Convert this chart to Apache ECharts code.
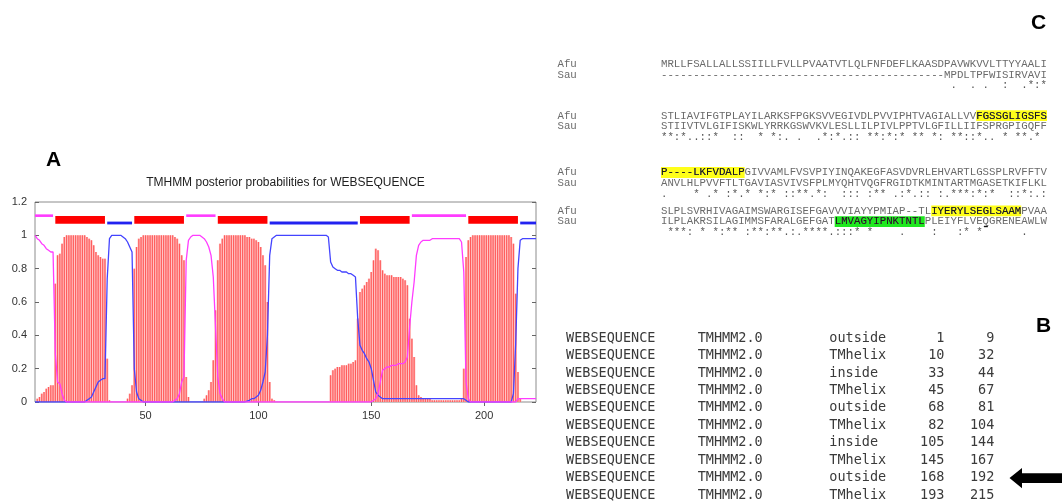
<!DOCTYPE html>
<html>
<head>
<meta charset="utf-8">
<script src="https://cdn.jsdelivr.net/npm/echarts@6/dist/echarts.min.js"></script>
<style>
  html, body { margin: 0; padding: 0; background: #ffffff; }
  #chart { width: 1062px; height: 501px; }
</style>
</head>
<body>
<div id="chart"></div>
<script>
// ---------- TMHMM posterior probabilities (residues 1..223) ----------
const seqLength = 223;

const tmProb = [
  0, 0.02, 0.03, 0.05, 0.06, 0.08, 0.09, 0.10, 0.10, 0.71,          // 1-10
  0.88, 0.89, 0.95, 0.99, 1, 1, 1, 1, 1, 1,                          // 11-20
  1, 1, 1, 0.99, 0.98, 0.97, 0.94, 0.90, 0.88, 0.87,                 // 21-30
  0.86, 0.86, 0.26, 0.01, 0, 0, 0, 0, 0, 0,                          // 31-40
  0, 0.02, 0.05, 0.10, 0.80, 0.93, 0.98, 0.99, 1, 1,                 // 41-50
  1, 1, 1, 1, 1, 1, 1, 1, 1, 1,                                      // 51-60
  1, 1, 0.99, 0.98, 0.95, 0.88, 0.85, 0.15, 0.03, 0,                 // 61-70
  0, 0, 0, 0, 0, 0.02, 0.04, 0.07, 0.12, 0.25,                       // 71-80
  0.55, 0.85, 0.95, 0.98, 1, 1, 1, 1, 1, 1,                          // 81-90
  1, 1, 1, 1, 0.99, 0.99, 0.98, 0.98, 0.97, 0.96,                    // 91-100
  0.93, 0.88, 0.82, 0.60, 0.12, 0.02, 0.01, 0, 0, 0,                 // 101-110
  0, 0, 0, 0, 0, 0, 0, 0, 0, 0,                                      // 111-120
  0, 0, 0, 0, 0, 0, 0, 0, 0, 0,                                      // 121-130
  0, 0.16, 0.19, 0.20, 0.21, 0.21, 0.22, 0.22, 0.22, 0.23,           // 131-140
  0.23, 0.24, 0.25, 0.50, 0.66, 0.68, 0.70, 0.72, 0.74, 0.78,        // 141-150
  0.85, 0.92, 0.91, 0.85, 0.79, 0.77, 0.76, 0.76, 0.76, 0.75,        // 151-160
  0.75, 0.75, 0.75, 0.74, 0.73, 0.70, 0.50, 0.38, 0.27, 0.10,        // 161-170
  0.04, 0.03, 0.02, 0.02, 0.02, 0.02, 0.01, 0.01, 0.01, 0.01,        // 171-180
  0.01, 0.01, 0.01, 0.01, 0.01, 0.01, 0.01, 0.01, 0.01, 0.02,        // 181-190
  0.20, 0.87, 0.97, 0.99, 1, 1, 1, 1, 1, 1,                          // 191-200
  1, 1, 1, 1, 1, 1, 1, 1, 1, 1,                                      // 201-210
  1, 0.99, 0.95, 0.65, 0.18, 0.02, 0, 0, 0, 0,                       // 211-220
  0, 0, 0                                                            // 221-223
];

const insideProb = [
  0, 0, 0, 0, 0, 0, 0, 0, 0, 0,                                      // 1-10
  0, 0, 0, 0, 0, 0, 0, 0, 0, 0,                                      // 11-20
  0, 0, 0, 0.01, 0.02, 0.03, 0.06, 0.09, 0.12, 0.13,                 // 21-30
  0.14, 0.14, 0.74, 0.98, 1, 1, 1, 1, 1, 0.99,                       // 31-40
  0.98, 0.96, 0.93, 0.90, 0.20, 0.06, 0.02, 0.01, 0, 0,              // 41-50
  0, 0, 0, 0, 0, 0, 0, 0, 0, 0,                                      // 51-60
  0, 0, 0, 0, 0, 0, 0, 0, 0, 0,                                      // 61-70
  0, 0, 0, 0, 0, 0, 0, 0, 0, 0,                                      // 71-80
  0, 0, 0, 0, 0, 0, 0, 0, 0, 0,                                      // 81-90
  0, 0, 0, 0, 0.005, 0.01, 0.02, 0.02, 0.03, 0.04,                   // 91-100
  0.07, 0.12, 0.18, 0.40, 0.88, 0.98, 0.99, 1, 1, 1,                 // 101-110
  1, 1, 1, 1, 1, 1, 1, 1, 1, 1,                                      // 111-120
  1, 1, 1, 1, 1, 1, 1, 1, 1, 1,                                      // 121-130
  0.99, 0.84, 0.81, 0.80, 0.79, 0.79, 0.78, 0.78, 0.78, 0.77,        // 131-140
  0.77, 0.76, 0.75, 0.50, 0.34, 0.31, 0.29, 0.26, 0.24, 0.20,        // 141-150
  0.13, 0.06, 0.04, 0.03, 0.02, 0.02, 0.02, 0.02, 0.02, 0.02,        // 151-160
  0.02, 0.02, 0.02, 0.02, 0.02, 0.02, 0.02, 0.02, 0.02, 0.02,        // 161-170
  0.02, 0.02, 0.02, 0.02, 0.02, 0.02, 0.02, 0.02, 0.02, 0.02,        // 171-180
  0.02, 0.02, 0.02, 0.02, 0.02, 0.02, 0.02, 0.02, 0.02, 0.02,        // 181-190
  0.02, 0.01, 0, 0, 0, 0, 0, 0, 0, 0,                                // 191-200
  0, 0, 0, 0, 0, 0, 0, 0, 0, 0,                                      // 201-210
  0, 0, 0.05, 0.35, 0.80, 0.97, 0.98, 0.98, 0.98, 0.98,              // 211-220
  0.98, 0.98, 0.98                                                   // 221-223
];

const outsideProb = [
  1, 0.98, 0.97, 0.95, 0.94, 0.92, 0.91, 0.90, 0.90, 0.29,           // 1-10
  0.12, 0.11, 0.05, 0.01, 0, 0, 0, 0, 0, 0,                          // 11-20
  0, 0, 0, 0, 0, 0, 0, 0, 0, 0,                                      // 21-30
  0, 0, 0, 0, 0, 0, 0, 0, 0, 0,                                      // 31-40
  0, 0, 0, 0, 0, 0, 0, 0, 0, 0,                                      // 41-50
  0, 0, 0, 0, 0, 0, 0, 0, 0, 0,                                      // 51-60
  0, 0, 0.01, 0.02, 0.05, 0.12, 0.15, 0.85, 0.97, 0.99,              // 61-70
  1, 1, 1, 1, 0.99, 0.98, 0.96, 0.93, 0.88, 0.75,                    // 71-80
  0.45, 0.15, 0.05, 0.02, 0, 0, 0, 0, 0, 0,                          // 81-90
  0, 0, 0, 0, 0, 0, 0, 0, 0, 0,                                      // 91-100
  0, 0, 0, 0, 0, 0, 0, 0, 0, 0,                                      // 101-110
  0, 0, 0, 0, 0, 0, 0, 0, 0, 0,                                      // 111-120
  0, 0, 0, 0, 0, 0, 0, 0, 0, 0,                                      // 121-130
  0, 0, 0, 0, 0, 0, 0, 0, 0, 0,                                      // 131-140
  0, 0, 0, 0, 0, 0, 0, 0, 0, 0,                                      // 141-150
  0.01, 0.02, 0.05, 0.12, 0.19, 0.20, 0.21, 0.21, 0.22, 0.22,        // 151-160
  0.22, 0.23, 0.23, 0.23, 0.24, 0.27, 0.45, 0.60, 0.72, 0.88,        // 161-170
  0.94, 0.96, 0.97, 0.97, 0.97, 0.97, 0.98, 0.98, 0.98, 0.98,        // 171-180
  0.98, 0.98, 0.98, 0.98, 0.98, 0.98, 0.98, 0.98, 0.98, 0.96,        // 181-190
  0.78, 0.12, 0.02, 0, 0, 0, 0, 0, 0, 0,                             // 191-200
  0, 0, 0, 0, 0, 0, 0, 0, 0, 0,                                      // 201-210
  0, 0, 0, 0, 0.02, 0.02, 0.02, 0.02, 0.02, 0.02,                    // 211-220
  0.02, 0.02, 0.02                                                   // 221-223
];

// ---------- predicted topology (TMHMM2.0 output) ----------
const seqName = 'WEBSEQUENCE';
const sourceName = 'TMHMM2.0';
const regionType  = ['outside', 'TMhelix', 'inside', 'TMhelix', 'outside', 'TMhelix', 'inside', 'TMhelix', 'outside', 'TMhelix', 'inside'];
const regionStart = [1, 10, 33, 45, 68, 82, 105, 145, 168, 193, 216];
const regionEnd   = [9, 32, 44, 67, 81, 104, 144, 167, 192, 215, 223];

const xTickValues = [50, 100, 150, 200];
const plotTitle = 'TMHMM posterior probabilities for WEBSEQUENCE';

// ---------- pairwise alignment (Clustal) ----------
const afuRows = [
  'MRLLFSALLALLSSIILLFVLLPVAATVTLQLFNFDEFLKAASDPAVWKVVLTTYYAALI',
  'STLIAVIFGTPLAYILARKSFPGKSVVEGIVDLPVVIPHTVAGIALLVVFGSSGLIGSFS',
  'P----LKFVDALPGIVVAMLFVSVPIYINQAKEGFASVDVRLEHVARTLGSSPLRVFFTV',
  'SLPLSVRHIVAGAIMSWARGISEFGAVVVIAYYPMIAP--TLIYERYLSEGLSAAMPVAA'
];
const sauRows = [
  '--------------------------------------------MPDLTPFWISIRVAVI',
  'STIIVTVLGIFISKWLYRRKGSWVKVLESLLILPIVLPPTVLGFILLIIFSPRGPIGQFF',
  'ANVLHLPVVFTLTGAVIASVIVSFPLMYQHTVQGFRGIDTKMINTARTMGASETKIFLKL',
  'ILPLAKRSILAGIMMSFARALGEFGATLMVAGYIPNKTNTLPLEIYFLVEQGRENEAWLW'
];
const consRows = [
  '                                             .  . .  :  .*:*',
  '**:*..::*  ::  * *:. .  .*:*.:: **:*:* ** *: **::*.. * **.* ',
  '.    * .* :*.* *:* ::**.*:  ::: :** .:*.:: :.***:*:*  ::*:.:',
  ' ***: * *:** :**:**.:.****.:::* *    .    :   :* *      .   '
];
// [row, first column, last column]
const afuMarked = [[1, 49, 59], [2, 0, 12], [3, 42, 55]];
const sauMarked = [[3, 27, 40]];

// ---------- layout ----------
const W = 1062, H = 501;
const plotLeft = 35, plotRight = 536, plotTop = 202, plotBottom = 402;
const segmentLevel = { outside: 1.118, TMhelix: 1.093, inside: 1.074 };
const segmentThick = { outside: 2.6, TMhelix: 7.6, inside: 2.8 };
const segmentColor = { outside: '#ff3cff', TMhelix: '#ff0000', inside: '#2222f0' };

const alnFontSize = 10.72;
const alnCharW = alnFontSize * 0.6001;
const alnFont = alnFontSize + 'px "Liberation Mono", "Courier New", monospace';
const alnSeqX = 661, alnLabelX = 557.5;
const alnBlockY = [64, 115.7, 172.5, 210.8];
const alnLineGap = 10.8;

const tblFont = '13.5px "DejaVu Sans Mono", monospace';
const tblTop = 338.3, tblRowH = 17.42;

const sansFont = '"Liberation Sans", Arial, Helvetica, sans-serif';

const positions = [];
for (let i = 1; i <= seqLength; i++) positions.push(i);

const chart = echarts.init(document.getElementById('chart'), null, { renderer: 'canvas' });

// ---------- graphic elements: panel letters, alignment, table, arrow ----------
const graphics = [];
function txt(x, y, text, font, fill, align, z) {
  graphics.push({
    type: 'text', x: x, y: y, z: z || 2, silent: true,
    style: { text: text, font: font, fill: fill, align: align || 'left', verticalAlign: 'middle',
             textAlign: align || 'left', textVerticalAlign: 'middle' }
  });
}

txt(46, 160, 'A', 'bold 21px ' + sansFont, '#000');
txt(1031, 23, 'C', 'bold 21px ' + sansFont, '#000');
txt(1036, 326, 'B', 'bold 21px ' + sansFont, '#000');
txt((plotLeft + plotRight) / 2, 183, plotTitle, '12px ' + sansFont, '#222', 'center');

// alignment blocks
afuRows.forEach(function (row, k) {
  const yA = alnBlockY[k], yS = yA + alnLineGap, yC = yA + 2 * alnLineGap;
  txt(alnLabelX, yA, 'Afu', alnFont, '#6a6a6a');
  txt(alnLabelX, yS, 'Sau', alnFont, '#6a6a6a');
  txt(alnSeqX, yA, row, alnFont, '#6a6a6a');
  txt(alnSeqX, yS, sauRows[k], alnFont, '#6a6a6a');
  txt(alnSeqX, yC, consRows[k], alnFont, '#555');
});
function mark(list, rows, dy, color) {
  list.forEach(function (m) {
    const k = m[0], c0 = m[1], c1 = m[2];
    const y = alnBlockY[k] + dy;
    graphics.push({
      type: 'rect', z: 1, silent: true,
      shape: { x: alnSeqX + c0 * alnCharW, y: y - 5.4, width: (c1 - c0 + 1) * alnCharW, height: 10.8 },
      style: { fill: color }
    });
    txt(alnSeqX + c0 * alnCharW, y, rows[k].slice(c0, c1 + 1), alnFont, '#1a1a1a', 'left', 3);
  });
}
mark(afuMarked, afuRows, 0, '#ffff1a');
mark(sauMarked, sauRows, alnLineGap, '#1ee81e');

// text cursor left under the Q of the last Sau row
graphics.push({
  type: 'rect', z: 3, silent: true,
  shape: { x: alnSeqX + 50 * alnCharW + 1.2, y: alnBlockY[3] + alnLineGap + 4.2, width: 4, height: 1.4 },
  style: { fill: '#111' }
});

// topology table (rows that fit on the panel)
regionType.slice(0, 10).forEach(function (t, i) {
  const y = tblTop + i * tblRowH;
  txt(566, y, seqName, tblFont, '#3a3a3a');
  txt(697.7, y, sourceName, tblFont, '#3a3a3a');
  txt(829.3, y, t, tblFont, '#3a3a3a');
  txt(944.5, y, String(regionStart[i]), tblFont, '#3a3a3a', 'right');
  txt(994.3, y, String(regionEnd[i]), tblFont, '#3a3a3a', 'right');
});

// arrow pointing at the outside 168-192 row
graphics.push({
  type: 'polygon', z: 2, silent: true,
  shape: { points: [[1009.5, 478], [1022, 468], [1022, 473.2], [1062, 473.2], [1062, 483], [1022, 483], [1022, 488.2]] },
  style: { fill: '#000' }
});

// ---------- series renderers ----------
function renderImpulse(params, api) {
  const v = api.value(1);
  if (!v) return null;
  const x = api.value(0);
  const top = api.coord([x, v]);
  const base = api.coord([x, 0]);
  const w = api.size([1, 0])[0];
  return {
    type: 'group',
    children: [
      { type: 'rect', shape: { x: top[0] - w / 2, y: top[1], width: w, height: base[1] - top[1] },
        style: { fill: '#ffb2b2' } },
      { type: 'rect', shape: { x: top[0] - 0.55, y: top[1], width: 1.1, height: base[1] - top[1] },
        style: { fill: '#ff5a5a' } }
    ]
  };
}

function renderSegment(params, api) {
  const kind = regionType[params.dataIndex];
  const p0 = api.coord([api.value(0), api.value(2)]);
  const p1 = api.coord([api.value(1), api.value(2)]);
  const h = segmentThick[kind];
  return {
    type: 'rect',
    shape: { x: p0[0], y: p0[1] - h / 2, width: p1[0] - p0[0], height: h },
    style: { fill: segmentColor[kind] }
  };
}

const axisTickStyle = { color: '#666', width: 1 };

const option = {
  animation: false,
  backgroundColor: '#ffffff',
  textStyle: { fontFamily: sansFont },
  grid: {
    left: plotLeft, right: W - plotRight, top: plotTop, bottom: H - plotBottom,
    show: true, borderColor: '#8c8c8c', borderWidth: 1, backgroundColor: 'transparent'
  },
  xAxis: [
    {
      type: 'value', min: 1, max: seqLength,
      axisLine: { show: false }, splitLine: { show: false },
      axisTick: { show: true, inside: true, length: 4, customValues: xTickValues, lineStyle: axisTickStyle },
      axisLabel: { show: true, customValues: xTickValues, fontSize: 11, color: '#333', margin: 8 }
    },
    {
      type: 'value', position: 'top', min: 1, max: seqLength,
      axisLine: { show: false }, splitLine: { show: false },
      axisTick: { show: true, inside: true, length: 4, customValues: xTickValues, lineStyle: axisTickStyle },
      axisLabel: { show: false }
    }
  ],
  yAxis: [
    {
      type: 'value', min: 0, max: 1.2, interval: 0.2,
      axisLine: { show: false }, splitLine: { show: false },
      axisTick: { show: true, inside: true, length: 4, lineStyle: axisTickStyle },
      axisLabel: { fontSize: 11, color: '#333', margin: 8 }
    },
    {
      type: 'value', position: 'right', min: 0, max: 1.2, interval: 0.2,
      axisLine: { show: false }, splitLine: { show: false },
      axisTick: { show: true, inside: true, length: 4, lineStyle: axisTickStyle },
      axisLabel: { show: false }
    }
  ],
  series: [
    {
      name: 'transmembrane', type: 'custom', renderItem: renderImpulse, clip: true, z: 2,
      encode: { x: 0, y: 1 },
      data: positions.map(function (p, i) { return [p, tmProb[i]]; })
    },
    {
      name: 'inside', type: 'line', showSymbol: false, symbol: 'none', z: 4, silent: true,
      lineStyle: { color: '#4444ff', width: 1.3 },
      data: positions.map(function (p, i) { return [p, insideProb[i]]; })
    },
    {
      name: 'outside', type: 'line', showSymbol: false, symbol: 'none', z: 5, silent: true,
      lineStyle: { color: '#ff3cff', width: 1.3 },
      data: positions.map(function (p, i) { return [p, outsideProb[i]]; })
    },
    {
      name: 'topology', type: 'custom', renderItem: renderSegment, clip: false, z: 6,
      encode: { x: [0, 1], y: 2 },
      data: regionType.map(function (t, i) { return [regionStart[i], regionEnd[i], segmentLevel[t]]; })
    }
  ],
  graphic: graphics
};

chart.setOption(option);
</script>
</body>
</html>
